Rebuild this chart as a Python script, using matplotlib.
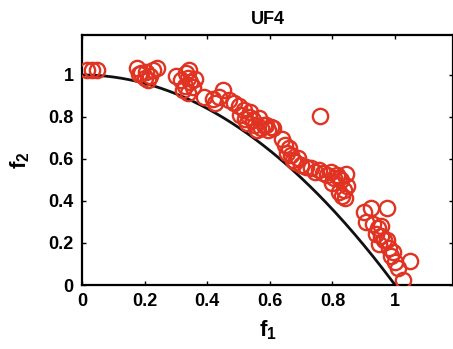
import numpy as np
import matplotlib
matplotlib.use("Agg")
import matplotlib.pyplot as plt

plt.rcParams['font.family'] = ['Liberation Sans', 'DejaVu Sans']
plt.rcParams['font.weight'] = 'bold'
plt.rcParams['mathtext.fontset'] = 'custom'
plt.rcParams['mathtext.rm'] = 'Liberation Sans:bold'
plt.rcParams['mathtext.it'] = 'Liberation Sans:bold'
plt.rcParams['mathtext.bf'] = 'Liberation Sans:bold'

title = "UF4"
xlabel = r"$\mathbf{f_1}$"
ylabel = r"$\mathbf{f_2}$"
xticks = [0, 0.2, 0.4, 0.6, 0.8, 1]
xticklabels = ["0", "0.2", "0.4", "0.6", "0.8", "1"]
yticks = [0, 0.2, 0.4, 0.6, 0.8, 1]
yticklabels = ["0", "0.2", "0.4", "0.6", "0.8", "1"]

# Obtained solutions
f1 = [0.016, 0.032, 0.048, 0.176, 0.189, 0.202, 0.218, 0.228, 0.240, 0.183,
      0.205, 0.212, 0.301, 0.317, 0.333, 0.337, 0.346, 0.330, 0.353, 0.340,
      0.324, 0.362, 0.343, 0.391, 0.417, 0.436, 0.449, 0.426, 0.471, 0.487,
      0.500, 0.516, 0.506, 0.522, 0.532, 0.538, 0.545, 0.526, 0.554, 0.564,
      0.580, 0.558, 0.571, 0.587, 0.603, 0.593, 0.609, 0.638, 0.647, 0.660,
      0.667, 0.654, 0.673, 0.679, 0.689, 0.699, 0.715, 0.731, 0.744, 0.756,
      0.769, 0.782, 0.795, 0.804, 0.814, 0.798, 0.821, 0.760, 0.827, 0.843,
      0.837, 0.840, 0.821, 0.846, 0.830, 0.901, 0.923, 0.974, 0.907, 0.929,
      0.946, 0.939, 0.955, 0.965, 0.949, 0.974, 0.981, 0.987, 1.000, 1.010,
      1.048, 1.026, 0.994, 0.955]
f2 = [1.024, 1.024, 1.024, 1.033, 1.010, 0.986, 0.995, 1.024, 1.033, 1.005,
      1.014, 0.976, 0.995, 0.976, 1.010, 0.986, 0.967, 0.948, 0.943, 0.914,
      0.929, 0.981, 1.024, 0.895, 0.886, 0.895, 0.929, 0.867, 0.881, 0.867,
      0.852, 0.833, 0.810, 0.790, 0.800, 0.824, 0.786, 0.771, 0.762, 0.795,
      0.762, 0.738, 0.748, 0.762, 0.752, 0.738, 0.748, 0.695, 0.667, 0.652,
      0.619, 0.629, 0.595, 0.586, 0.605, 0.571, 0.562, 0.557, 0.538, 0.548,
      0.533, 0.524, 0.538, 0.510, 0.524, 0.486, 0.510, 0.805, 0.500, 0.529,
      0.452, 0.414, 0.443, 0.471, 0.424, 0.348, 0.367, 0.367, 0.300, 0.290,
      0.271, 0.243, 0.233, 0.214, 0.195, 0.214, 0.176, 0.138, 0.110, 0.081,
      0.114, 0.024, 0.157, 0.281]

# True Pareto front of UF4: f2 = 1 - f1^2
pf_f1 = np.linspace(0, 1, 200)
pf_f2 = 1 - pf_f1 ** 2

fig = plt.figure(figsize=(4.53, 3.49), dpi=100)
ax = fig.add_axes([82 / 453, 64 / 349, 371 / 453, 250 / 349])

ax.plot(pf_f1, pf_f2, color='#111111', linewidth=2.0, zorder=2)
ax.plot(f1, f2, linestyle='none', marker='o', markersize=11,
        markerfacecolor='none', markeredgecolor='#e03322',
        markeredgewidth=1.7, zorder=3)

ax.set_xlim(0, 1.185)
ax.set_ylim(0, 1.19)
ax.set_xticks(xticks)
ax.set_xticklabels(xticklabels)
ax.set_yticks(yticks)
ax.set_yticklabels(yticklabels)
ax.tick_params(direction='in', length=3, width=1, labelsize=13,
               top=True, right=True, pad=6)
for lab in ax.get_xticklabels() + ax.get_yticklabels():
    lab.set_fontweight('bold')
for s in ax.spines.values():
    s.set_linewidth(1.6)

ax.set_title(title, fontsize=13, fontweight='bold', pad=8)
ax.set_xlabel(xlabel, fontsize=16, labelpad=6)
ax.set_ylabel(ylabel, fontsize=16, labelpad=12)

fig.savefig("out.png", dpi=100)
